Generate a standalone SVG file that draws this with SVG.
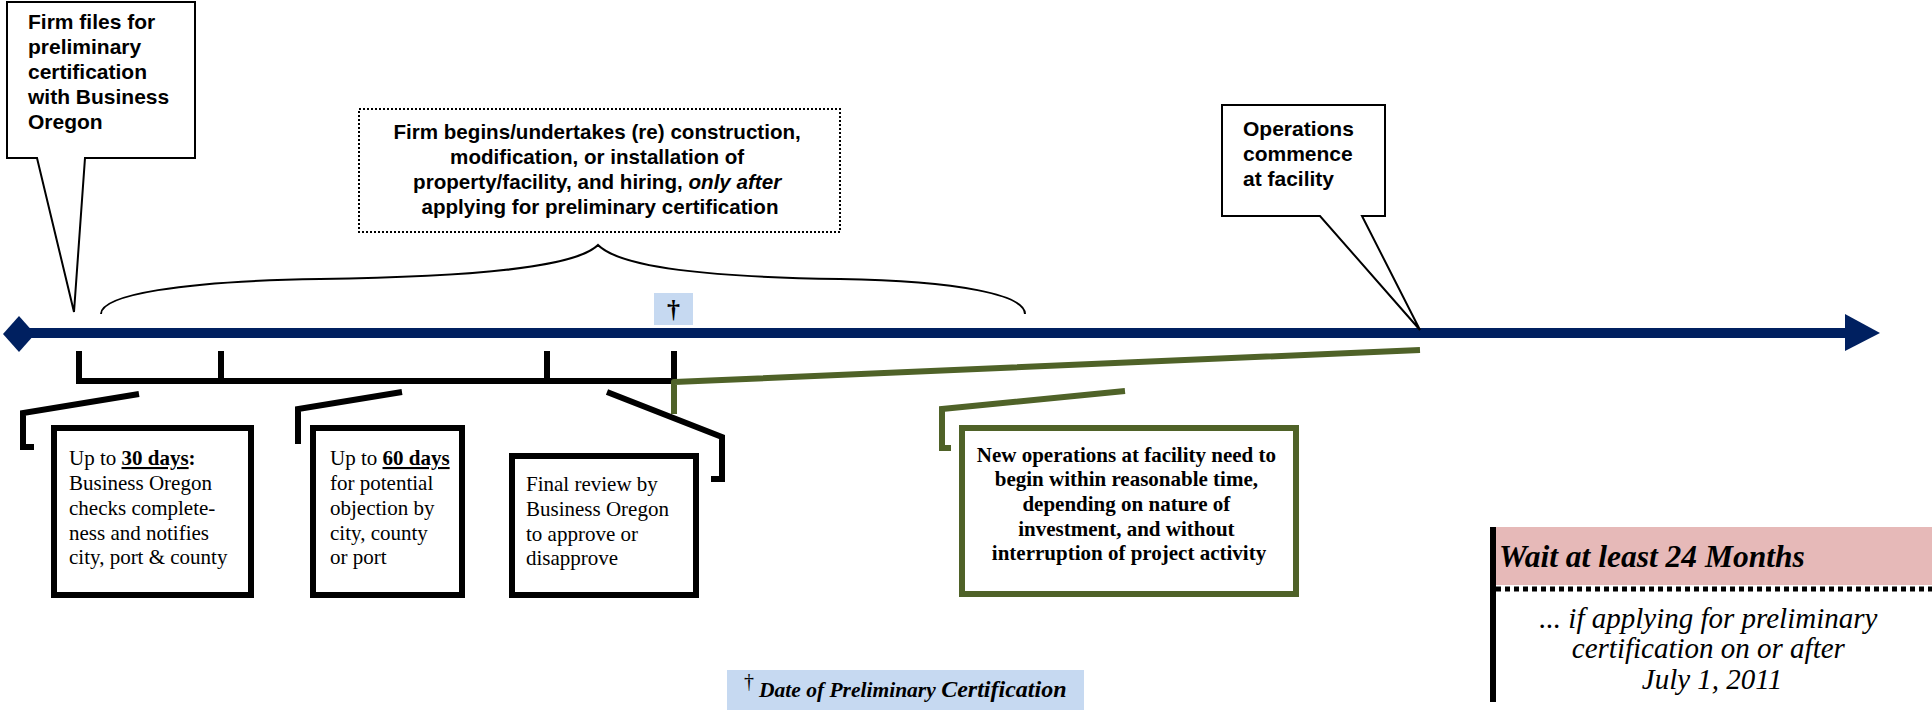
<svg xmlns="http://www.w3.org/2000/svg" width="1932" height="710" viewBox="0 0 1932 710">
<style>
.callout{fill:#fff;stroke:#000;stroke-width:2;stroke-linejoin:miter}
.sans{font-family:"Liberation Sans",Arial,sans-serif;font-weight:bold;font-size:21px;fill:#000}
.serif{font-family:"Liberation Serif","Times New Roman",serif;font-size:21px;fill:#000}
.box{fill:#fff;stroke:#000;stroke-width:6}
.gbox{fill:#fff;stroke:#4F6228;stroke-width:6}
.bk{fill:none;stroke:#000;stroke-width:6;stroke-linejoin:miter}
.gr{fill:none;stroke:#4F6228;stroke-width:6;stroke-linejoin:round}
.navy{fill:#002060}
</style>
<rect width="1932" height="710" fill="#fff"/>

<g id="connectors">
  <path id="brace" d="M101,314 C101,295 180,281 320,279 C470,277 575,268 598,245 C621,268 710,277 840,279 C960,281 1025,295 1025,314" fill="none" stroke="#000" stroke-width="2"/>
  <g id="timeline">
    <line x1="18" y1="333" x2="1847" y2="333" stroke="#002060" stroke-width="10"/>
    <polygon class="navy" points="3,334 19,316 35,334 19,352"/>
    <polygon class="navy" points="1845,314 1880,333 1845,351"/>
  </g>
  <path id="ticks" class="bk" d="M79,351 V381 H674 M221,351 V381 M547,351 V381 M674,351 V381"/>
  <path id="br1" class="bk" d="M139,394 L23,413 V447 H34"/>
  <path id="br2" class="bk" d="M402,392 L298,409 V444"/>
  <path id="br3" class="bk" d="M607,392 L722,437 V479 H711"/>
  <path id="green-link" class="gr" d="M674,414 V382 L1420,350"/>
  <path id="br4" class="gr" style="stroke-linejoin:miter" d="M1125,391 L942,409 V448 H951"/>
</g>

<g id="callout-firm">
  <path class="callout" d="M7,2 H195 V158 H85 L74,312 L37,158 H7 Z"/>
  <text class="sans" x="28" y="29">Firm files for</text>
  <text class="sans" x="28" y="54">preliminary</text>
  <text class="sans" x="28" y="79">certification</text>
  <text class="sans" x="28" y="104">with Business</text>
  <text class="sans" x="28" y="129">Oregon</text>
</g>

<g id="callout-construction">
  <rect x="359" y="109" width="481" height="123" fill="#fff" stroke="#000" stroke-width="2" stroke-dasharray="2,2"/>
  <text class="sans" text-anchor="middle" x="600" style="font-size:20.6px">
    <tspan x="600" y="139">Firm begins/undertakes (re) construction,</tspan>
    <tspan x="600" y="164">modification, or installation of</tspan>
    <tspan x="600" y="189">property/facility, and hiring, <tspan font-style="italic">only after</tspan></tspan>
    <tspan x="600" y="214">applying for preliminary certification</tspan>
  </text>
</g>

<g id="callout-operations">
  <path class="callout" d="M1222,105 H1385 V216 H1362 L1420,330 L1320,216 H1222 Z"/>
  <text class="sans" x="1243" y="136">Operations</text>
  <text class="sans" x="1243" y="161">commence</text>
  <text class="sans" x="1243" y="186">at facility</text>
</g>

<g id="dagger-marker">
  <rect x="654" y="293" width="39" height="32" fill="#C6D9F1"/>
  <text class="serif" x="673.5" y="318" text-anchor="middle" style="font-size:26px;font-weight:bold">†</text>
</g>

<g id="box-30days">
  <rect class="box" x="54" y="428" width="197" height="167"/>
  <text class="serif" x="69" y="465">Up to <tspan font-weight="bold" text-decoration="underline">30 days</tspan><tspan font-weight="bold">:</tspan></text>
  <text class="serif" x="69" y="490">Business Oregon</text>
  <text class="serif" x="69" y="515">checks complete-</text>
  <text class="serif" x="69" y="540">ness and notifies</text>
  <text class="serif" x="69" y="564">city, port &amp; county</text>
</g>

<g id="box-60days">
  <rect class="box" x="313" y="428" width="149" height="167"/>
  <text class="serif" x="330" y="465">Up to <tspan font-weight="bold" text-decoration="underline">60 days</tspan></text>
  <text class="serif" x="330" y="490">for potential</text>
  <text class="serif" x="330" y="515">objection by</text>
  <text class="serif" x="330" y="540">city, county</text>
  <text class="serif" x="330" y="564">or port</text>
</g>

<g id="box-final">
  <rect class="box" x="512" y="456" width="184" height="139"/>
  <text class="serif" x="526" y="491">Final review by</text>
  <text class="serif" x="526" y="516">Business Oregon</text>
  <text class="serif" x="526" y="541">to approve or</text>
  <text class="serif" x="526" y="565">disapprove</text>
</g>

<g id="box-new-ops">
  <rect class="gbox" x="962" y="428" width="334" height="166"/>
  <text class="serif" text-anchor="middle" style="font-weight:bold">
    <tspan x="1129" y="462">New operations at facility need to</tspan>
    <tspan x="1129" y="486">begin within reasonable time,</tspan>
    <tspan x="1129" y="511">depending on nature of</tspan>
    <tspan x="1129" y="536">investment, and without</tspan>
    <tspan x="1129" y="560">interruption of project activity</tspan>
  </text>
</g>

<g id="wait-block">
  <rect x="1496" y="527" width="436" height="58" fill="#E6B9B8"/>
  <rect x="1490" y="527" width="6" height="175" fill="#000"/>
  <line x1="1496" y1="589" x2="1932" y2="589" stroke="#000" stroke-width="5" stroke-dasharray="5,4"/>
  <text class="serif" x="1499" y="567" style="font-size:31.5px;font-weight:bold;font-style:italic">Wait at least 24 Months</text>
  <text class="serif" text-anchor="middle" style="font-size:29px;font-style:italic">
    <tspan x="1712" y="628">... if applying for preliminary</tspan>
    <tspan x="1712" y="658">certification on or after</tspan>
    <tspan x="1712" y="689">July 1, 2011</tspan>
  </text>
</g>

<g id="footnote">
  <rect x="727" y="670" width="357" height="40" fill="#C6D9F1"/>
  <text class="serif" x="744" y="688" style="font-size:20px">†</text>
  <text class="serif" x="759" y="697" style="font-weight:bold;font-style:italic;font-size:21.5px">Date of Preliminary <tspan style="font-size:24px">Certification</tspan></text>
</g>
</svg>
